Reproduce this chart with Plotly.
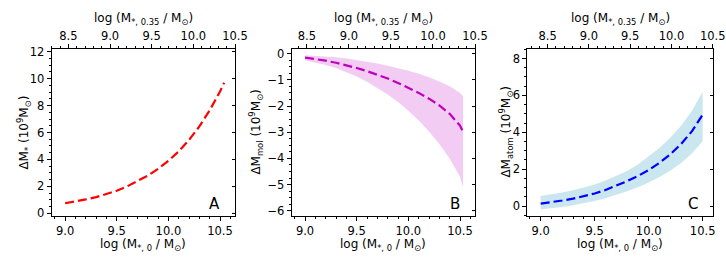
import plotly.graph_objects as go

# ---------------- data ----------------
x_a = [9.0, 9.1, 9.2, 9.3, 9.4, 9.5, 9.6, 9.7, 9.8, 9.9, 10.0, 10.1, 10.2, 10.3, 10.4, 10.5, 10.54]
dm_star = [0.75, 0.88, 1.03, 1.2, 1.42, 1.68, 2.0, 2.37, 2.8, 3.3, 3.9, 4.6, 5.45, 6.45, 7.65, 9.05, 9.7]

x_b = [9.0, 9.1, 9.2, 9.3, 9.4, 9.5, 9.6, 9.7, 9.8, 9.9, 10.0, 10.1, 10.2, 10.3, 10.4, 10.5, 10.53]
dm_mol = [-0.15, -0.2, -0.27, -0.35, -0.44, -0.55, -0.67, -0.8, -0.95, -1.12, -1.3, -1.5, -1.72, -1.98, -2.3, -2.75, -3.0]
dm_mol_hi = [-0.06, -0.08, -0.11, -0.14, -0.19, -0.25, -0.31, -0.38, -0.46, -0.55, -0.65, -0.77, -0.9, -1.06, -1.25, -1.5, -1.63]
dm_mol_lo = [-0.25, -0.33, -0.43, -0.55, -0.7, -0.87, -1.07, -1.3, -1.56, -1.85, -2.18, -2.55, -2.97, -3.45, -4.0, -4.7, -5.1]

x_c = [9.0, 9.1, 9.2, 9.3, 9.4, 9.5, 9.6, 9.7, 9.8, 9.9, 10.0, 10.1, 10.2, 10.3, 10.4, 10.5]
dm_atom = [0.13, 0.2, 0.3, 0.4, 0.53, 0.68, 0.87, 1.1, 1.35, 1.63, 1.95, 2.34, 2.8, 3.36, 4.05, 4.95]
dm_atom_hi = [0.54, 0.63, 0.74, 0.86, 1.0, 1.17, 1.38, 1.62, 1.9, 2.25, 2.68, 3.15, 3.7, 4.35, 5.15, 6.2]
dm_atom_lo = [-0.18, -0.12, -0.05, 0.04, 0.14, 0.27, 0.42, 0.6, 0.8, 1.02, 1.27, 1.57, 1.92, 2.33, 2.85, 3.52]

bottom_ticks = [9.0, 9.5, 10.0, 10.5]
top_ticks = [8.5, 9.0, 9.5, 10.0, 10.5]
panel_letters = ["A", "B", "C"]

FONT = "DejaVu Sans"
W, H = 726, 268

# pixel geometry (layout only)
panels_px = [(51.7, 235.0), (291.7, 475.0), (527.3, 712.7)]
y_top_px, y_bot_px = 49.3, 216.0
xranges = [[8.87, 10.645], [8.871, 10.645], [8.876, 10.593]]
topranges = [[8.30, 10.5], [8.32, 10.5], [8.253, 10.5]]
yranges = [[-0.2, 12.18], [-6.2, 0.165], [-0.54, 8.5]]
ydticks = [2, 1, 2]
yminor = [0.5, 0.25, 0.5]

ydom = [1 - y_bot_px / H, 1 - y_top_px / H]

fig = go.Figure()

# Panel A
fig.add_trace(go.Scatter(x=x_a, y=dm_star, mode="lines",
                         line=dict(color="#ff0000", width=2.2, dash="9px,4px"),
                         xaxis="x", yaxis="y", showlegend=False))
# Panel B
fig.add_trace(go.Scatter(x=x_b, y=dm_mol_hi, mode="lines", line=dict(width=0),
                         xaxis="x3", yaxis="y3", showlegend=False, hoverinfo="skip"))
fig.add_trace(go.Scatter(x=x_b, y=dm_mol_lo, mode="lines", line=dict(width=0),
                         fill="tonexty", fillcolor="rgba(191,0,191,0.2)",
                         xaxis="x3", yaxis="y3", showlegend=False, hoverinfo="skip"))
fig.add_trace(go.Scatter(x=x_b, y=dm_mol, mode="lines",
                         line=dict(color="#bf00bf", width=2.2, dash="9px,4px"),
                         xaxis="x3", yaxis="y3", showlegend=False))
# Panel C
fig.add_trace(go.Scatter(x=x_c, y=dm_atom_hi, mode="lines", line=dict(width=0),
                         xaxis="x5", yaxis="y5", showlegend=False, hoverinfo="skip"))
fig.add_trace(go.Scatter(x=x_c, y=dm_atom_lo, mode="lines", line=dict(width=0),
                         fill="tonexty", fillcolor="rgba(173,216,230,0.65)",
                         xaxis="x5", yaxis="y5", showlegend=False, hoverinfo="skip"))
fig.add_trace(go.Scatter(x=x_c, y=dm_atom, mode="lines",
                         line=dict(color="#0000ff", width=2.2, dash="9px,4px"),
                         xaxis="x5", yaxis="y5", showlegend=False))

# empty traces so that the secondary (top / right) axes are drawn
for i in range(3):
    xb = 2 * i + 1
    xt = 2 * i + 2
    xb_ref = "x" if xb == 1 else f"x{xb}"
    yb_ref = "y" if xb == 1 else f"y{xb}"
    fig.add_trace(go.Scatter(x=[], y=[], xaxis=f"x{xt}", yaxis=yb_ref,
                             showlegend=False, hoverinfo="skip"))
    fig.add_trace(go.Scatter(x=[], y=[], xaxis=xb_ref, yaxis=f"y{xt}",
                             showlegend=False, hoverinfo="skip"))

tickfont = dict(family=FONT, size=11.5, color="black")
titlefont = dict(family=FONT, size=12, color="black")
layout = dict(
    width=W, height=H, margin=dict(l=0, r=0, t=0, b=0),
    paper_bgcolor="white", plot_bgcolor="white",
    font=dict(family=FONT, size=11.5, color="black"),
    showlegend=False,
)

ytitles = ["ΔM<sub>*</sub> (10<sup>9</sup>M<sub>⊙</sub>)",
           "ΔM<sub>mol</sub> (10<sup>9</sup>M<sub>⊙</sub>)",
           "ΔM<sub>atom</sub> (10<sup>9</sup>M<sub>⊙</sub>)"]
ytitle_x = [24.0, 256.0, 506.0]

annotations = []
for i in range(3):
    xb = 2 * i + 1
    xt = 2 * i + 2
    xb_name = "xaxis" if xb == 1 else f"xaxis{xb}"
    yb_name = "yaxis" if xb == 1 else f"yaxis{xb}"
    xb_ref = "x" if xb == 1 else f"x{xb}"
    yb_ref = "y" if xb == 1 else f"y{xb}"
    x0, x1 = panels_px[i]
    dom = [x0 / W, x1 / W]
    layout[xb_name] = dict(
        domain=dom, anchor=yb_ref, range=xranges[i], tickmode="array",
        tickvals=bottom_ticks, ticktext=[f"{v:.1f}" for v in bottom_ticks],
        ticks="outside", ticklen=4, tickwidth=1, tickcolor="black",
        showline=True, linecolor="black", linewidth=1, mirror=True,
        showgrid=False, zeroline=False, tickfont=tickfont,
        minor=dict(tickmode="linear", tick0=9.0, dtick=0.1, ticks="outside",
                   ticklen=2, tickwidth=1, tickcolor="black", showgrid=False),
        automargin=False, fixedrange=True,
    )
    layout[f"xaxis{xt}"] = dict(
        anchor=yb_ref, overlaying=xb_ref, side="top",
        range=topranges[i], tickmode="array",
        tickvals=top_ticks, ticktext=[f"{v:.1f}" for v in top_ticks],
        ticks="outside", ticklen=4, tickwidth=1, tickcolor="black",
        showline=False, showgrid=False, zeroline=False, tickfont=tickfont,
        minor=dict(tickmode="linear", tick0=8.5, dtick=0.1, ticks="outside",
                   ticklen=2, tickwidth=1, tickcolor="black", showgrid=False),
        automargin=False, fixedrange=True,
    )
    layout[yb_name] = dict(
        domain=ydom, anchor=xb_ref, range=yranges[i],
        tickmode="linear", tick0=0, dtick=ydticks[i],
        ticks="outside", ticklen=4, tickwidth=1, tickcolor="black",
        showline=True, linecolor="black", linewidth=1, mirror=True,
        showgrid=False, zeroline=False, tickfont=tickfont,
        minor=dict(tickmode="linear", tick0=0, dtick=yminor[i], ticks="outside",
                   ticklen=2, tickwidth=1, tickcolor="black", showgrid=False),
        automargin=False, fixedrange=True,
    )
    layout[f"yaxis{xt}"] = dict(
        anchor=xb_ref, overlaying=yb_ref, side="right",
        range=yranges[i], tickmode="linear", tick0=0, dtick=ydticks[i],
        ticks="inside", ticklen=3, tickwidth=1, tickcolor="black",
        showticklabels=False, showline=False, showgrid=False, zeroline=False,
        automargin=False, fixedrange=True,
    )
    cx = (x0 + x1) / 2 / W
    annotations.append(dict(text="log (M<sub>*, 0</sub> / M<sub>⊙</sub>)",
                            x=cx, y=1 - 245.0 / H, xref="paper", yref="paper",
                            xanchor="center", yanchor="middle", showarrow=False,
                            font=titlefont))
    annotations.append(dict(text="log (M<sub>*, 0.35</sub> / M<sub>⊙</sub>)",
                            x=cx, y=1 - 19.0 / H, xref="paper", yref="paper",
                            xanchor="center", yanchor="middle", showarrow=False,
                            font=titlefont))
    annotations.append(dict(text=ytitles[i], textangle=-90,
                            x=ytitle_x[i] / W, y=1 - 132.6 / H, xref="paper", yref="paper",
                            xanchor="center", yanchor="middle", showarrow=False,
                            font=titlefont))
    annotations.append(dict(text=panel_letters[i],
                            x=(x1 - 13) / W, y=1 - 204.0 / H, xref="paper", yref="paper",
                            xanchor="right", yanchor="middle", showarrow=False,
                            font=dict(family=FONT, size=15, color="black")))

layout["annotations"] = annotations
fig.update_layout(**layout)
fig.write_html("out.html", config={"displayModeBar": False},
               post_script="document.body.style.margin='0px';document.body.style.overflow='hidden';")
